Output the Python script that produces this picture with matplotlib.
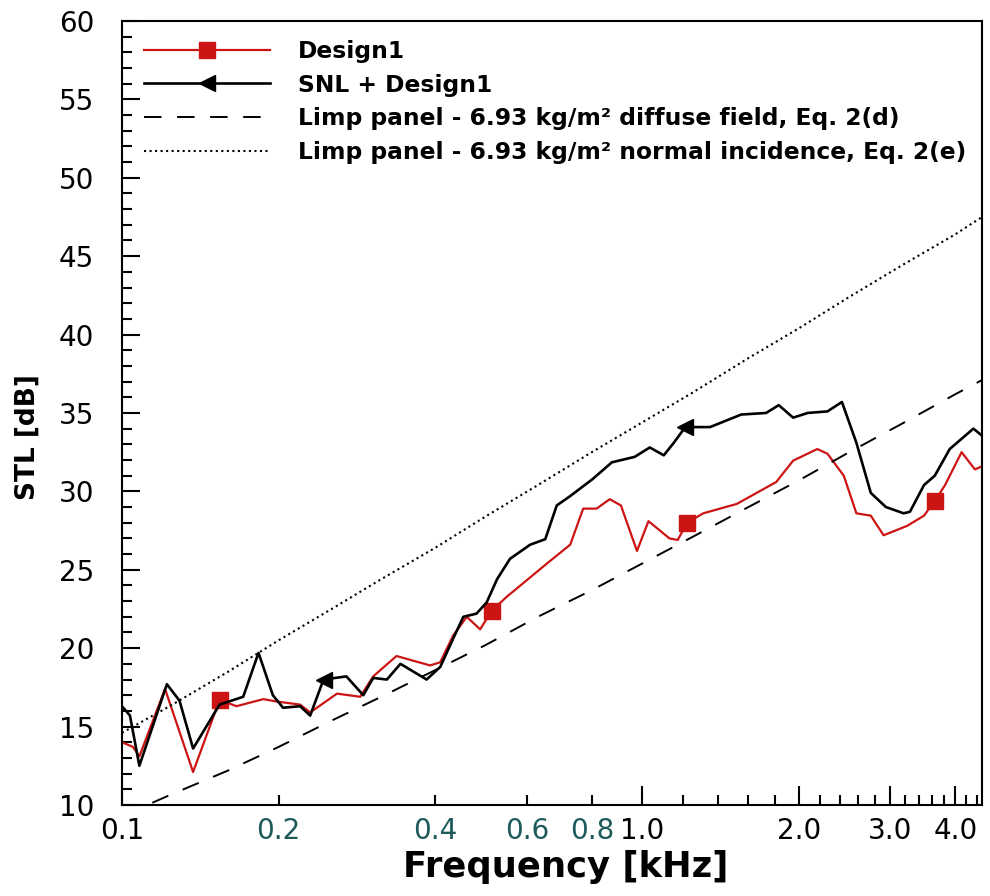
import matplotlib
matplotlib.use("Agg")
import matplotlib.pyplot as plt
from matplotlib.ticker import FixedLocator, FixedFormatter

f_d1 = [0.100, 0.105, 0.108, 0.121, 0.137, 0.154, 0.166, 0.187, 0.198, 0.220,
        0.230, 0.259, 0.287, 0.304, 0.337, 0.391, 0.409, 0.433, 0.460, 0.488,
        0.514, 0.550, 0.656, 0.727, 0.770, 0.817, 0.866, 0.910, 0.977, 1.028,
        1.128, 1.170, 1.22, 1.31, 1.52, 1.81, 1.95, 2.17, 2.27, 2.44,
        2.58, 2.75, 2.91, 3.23, 3.48, 3.65, 3.82, 4.11, 4.36, 4.50]
stl_d1 = [14.0, 13.7, 13.1, 17.4, 12.1, 16.7, 16.3, 16.75, 16.6, 16.4,
          15.9, 17.1, 16.9, 18.2, 19.5, 18.9, 19.1, 20.8, 22.0, 21.2,
          22.4, 23.3, 25.4, 26.6, 28.9, 28.9, 29.5, 29.1, 26.2, 28.1,
          27.0, 26.9, 28.0, 28.6, 29.2, 30.6, 31.96, 32.7, 32.4, 31.0,
          28.6, 28.45, 27.2, 27.8, 28.45, 29.4, 30.4, 32.5, 31.4, 31.6]
d1_marks = [0.154, 0.514, 1.22, 3.65]

# SNL + Design1
f_snl = [0.100, 0.1036, 0.108, 0.122, 0.129, 0.137, 0.154, 0.171, 0.183, 0.195,
         0.204, 0.220, 0.230, 0.244, 0.270, 0.291, 0.304, 0.323, 0.343, 0.385,
         0.409, 0.433, 0.453, 0.480, 0.502, 0.526, 0.557, 0.609, 0.651, 0.685,
         0.727, 0.804, 0.874, 0.967, 1.034, 1.10, 1.15, 1.21, 1.35, 1.55,
         1.73, 1.83, 1.95, 2.08, 2.27, 2.42, 2.58, 2.75, 2.94, 3.18,
         3.27, 3.48, 3.65, 3.90, 4.33, 4.50]
stl_snl = [16.3, 15.7, 12.5, 17.7, 16.65, 13.6, 16.4, 16.9, 19.7, 17.0,
           16.2, 16.3, 15.7, 18.0, 18.2, 17.0, 18.1, 18.0, 19.0, 18.0,
           18.8, 20.6, 22.0, 22.2, 22.9, 24.4, 25.7, 26.6, 26.95, 29.1,
           29.7, 30.8, 31.85, 32.2, 32.8, 32.3, 33.1, 34.1, 34.1, 34.9,
           35.0, 35.5, 34.7, 35.0, 35.1, 35.7, 33.1, 29.9, 29.0, 28.6,
           28.7, 30.4, 31.0, 32.7, 34.0, 33.55]
snl_marks = [0.244, 1.21]

# limp panel curves
f_th = [0.1, 0.125, 0.16, 0.2, 0.25, 0.315, 0.4, 0.5, 0.63, 0.8,
        1.0, 1.25, 1.6, 2.0, 2.5, 3.15, 4.0, 4.5]
stl_diffuse = [9.3, 10.7, 12.2, 13.7, 15.3, 16.9, 18.6, 20.2, 22.0, 23.7,
               25.4, 27.1, 29.0, 30.7, 32.5, 34.3, 36.2, 37.1]
stl_normal = [14.6, 16.4, 18.5, 20.5, 22.4, 24.4, 26.4, 28.4, 30.4, 32.5,
              34.4, 36.3, 38.5, 40.4, 42.4, 44.4, 46.4, 47.5]

major_x = [0.1, 1.0, 2.0, 3.0, 4.0]
major_x_lbl = ['0.1', '1.0', '2.0', '3.0', '4.0']
minor_x = [0.2, 0.4, 0.6, 0.8, 1.2, 1.4, 1.6, 1.8, 2.2, 2.4, 2.6, 2.8,
           3.2, 3.4, 3.6, 3.8, 4.2, 4.4]
minor_x_lbl = {0.2: '0.2', 0.4: '0.4', 0.6: '0.6', 0.8: '0.8'}

plt.rcParams['font.family'] = ['DejaVu Sans']

fig = plt.figure(figsize=(9.9, 8.96), dpi=100)
ax = fig.add_axes([0.1232, 0.1016, 0.8688, 0.875])

red = '#cc1414'
ax.plot(f_d1, stl_d1, color=red, lw=1.6, marker='s', ms=11, mec=red, mfc=red,
        markevery=[f_d1.index(m) for m in d1_marks], label='Design1')
ax.plot(f_snl, stl_snl, color='black', lw=1.9, marker='<', ms=11,
        markevery=[f_snl.index(m) for m in snl_marks], label='SNL + Design1')
ax.plot(f_th, stl_diffuse, color='black', lw=1.4, dashes=(9, 8),
        label='Limp panel - 6.93 kg/m² diffuse field, Eq. 2(d)')
ax.plot(f_th, stl_normal, color='black', lw=1.5, linestyle=':',
        label='Limp panel - 6.93 kg/m² normal incidence, Eq. 2(e)')

ax.set_xscale('log')
ax.set_xlim(0.1, 4.5)
ax.set_ylim(10, 60)

ax.xaxis.set_major_locator(FixedLocator(major_x))
ax.xaxis.set_major_formatter(FixedFormatter(major_x_lbl))
ax.xaxis.set_minor_locator(FixedLocator(minor_x))
ax.xaxis.set_minor_formatter(FixedFormatter([minor_x_lbl.get(v, '') for v in minor_x]))
ax.set_yticks(range(10, 61, 5))
ax.set_yticks(range(10, 61, 1), minor=True)

ax.tick_params(axis='both', which='both', direction='in', top=False, right=False,
               width=1.5)
ax.tick_params(axis='x', which='major', length=14, pad=9, labelsize=20)
ax.tick_params(axis='x', which='minor', length=7, pad=9, labelsize=20)
ax.tick_params(axis='y', which='major', length=13, pad=20, labelsize=20)
ax.tick_params(axis='y', which='minor', length=7)
for t in ax.xaxis.get_minorticklabels():
    t.set_color('#1e5a5a')
for s in ax.spines.values():
    s.set_linewidth(1.5)

ax.set_xlabel('Frequency [kHz]', fontsize=25.5, fontweight='bold')
ax.set_ylabel('STL [dB]', fontsize=19, fontweight='bold')
ax.xaxis.set_label_coords(0.516, -0.058)
ax.yaxis.set_label_coords(-0.094, 0.469)

leg = ax.legend(loc='upper left', bbox_to_anchor=(0.026, 0.976), frameon=False,
                borderpad=0, borderaxespad=0, handlelength=5.4, handletextpad=1.2,
                labelspacing=0.46, numpoints=1,
                prop={'size': 16.8, 'weight': 'bold'})

fig.savefig('out.png', dpi=100)
